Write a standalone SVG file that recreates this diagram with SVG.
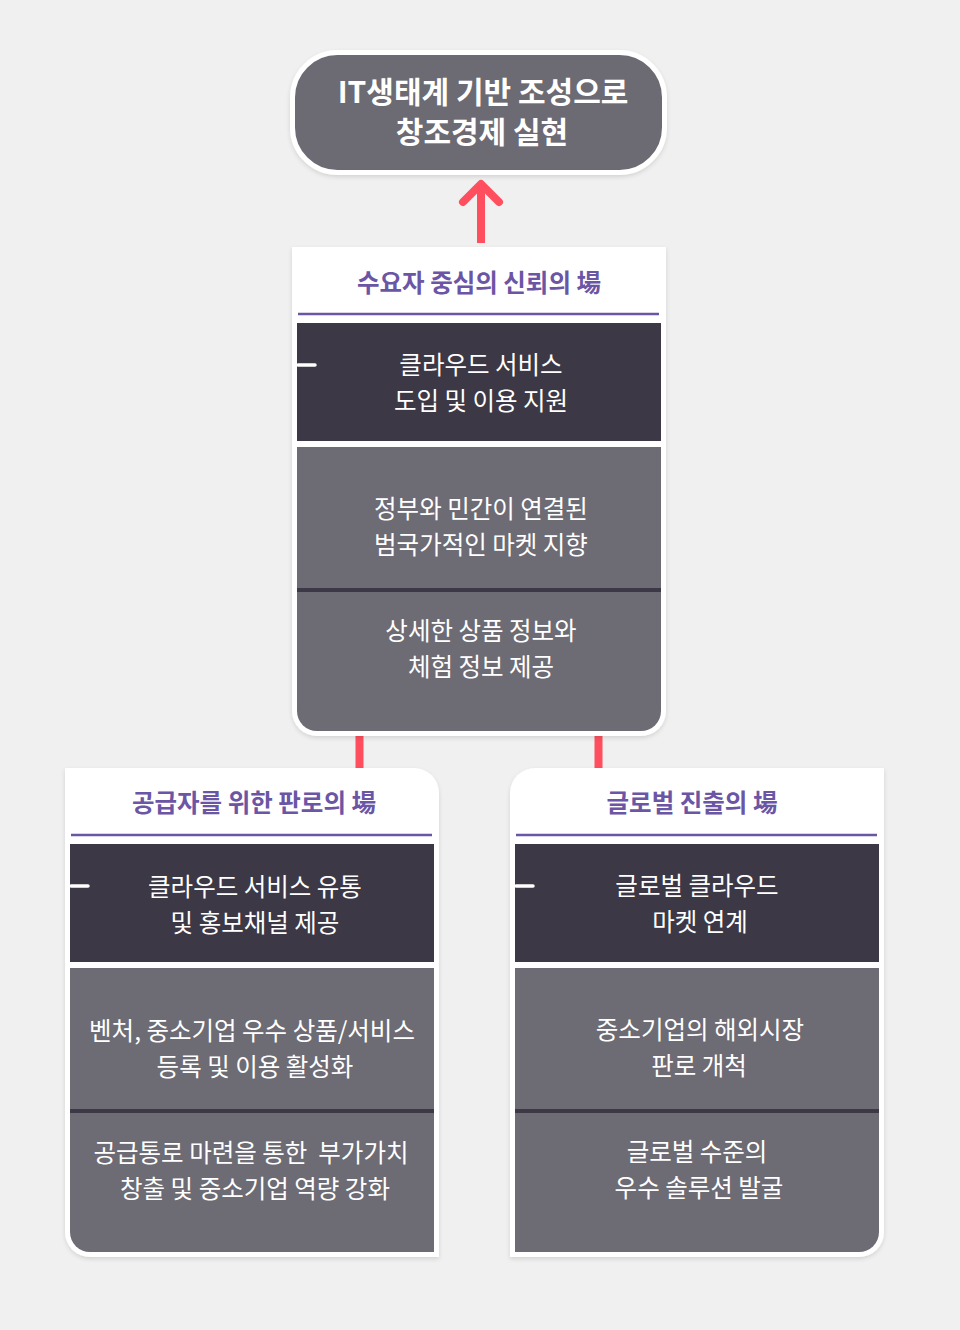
<svg xmlns="http://www.w3.org/2000/svg" width="960" height="1330" viewBox="0 0 960 1330">
<defs>
<filter id="sh" x="-10%" y="-10%" width="120%" height="120%">
<feDropShadow dx="0" dy="2" stdDeviation="2" flood-color="#000" flood-opacity="0.12"/>
</filter>
<style>
.title{font-family:"Noto Sans CJK KR","Noto Sans",sans-serif;font-weight:700;font-size:30px;fill:#fff;text-anchor:middle}
.hdr{font-family:"Noto Sans CJK KR","Noto Sans",sans-serif;font-weight:700;font-size:24.5px;fill:#6b55a5;text-anchor:middle}
.txt{font-family:"Noto Sans CJK KR","Noto Sans",sans-serif;font-size:24.5px;fill:#fff;text-anchor:middle}
.panel{fill:#fff;filter:url(#sh)}
.dark{fill:#3c3846}
.mid{fill:#6d6b74}
.sep{fill:#3c3846}
.rule{stroke:#6b55a5;stroke-width:2.5}
.tick{stroke:#fff;stroke-width:3.5;stroke-linecap:round}
.red{stroke:#ff4f5e;stroke-width:8;fill:none}
</style>
</defs>
<rect width="960" height="1330" fill="#f0f0f0"/>

<g id="connectors">
<line class="red" x1="481" y1="243" x2="481" y2="186"/>
<polyline class="red" points="463,202 481,184 499,202" stroke-width="7" stroke-linecap="round" stroke-linejoin="round"/>
<line class="red" x1="359.5" y1="734" x2="359.5" y2="770"/>
<line class="red" x1="598.5" y1="734" x2="598.5" y2="770"/>
</g>

<g id="goal">
<rect x="292.5" y="52.5" width="372" height="120" rx="45" fill="#6c6a72" stroke="#fff" stroke-width="5" filter="url(#sh)"/>
<text class="title" x="483" y="103">IT생태계 기반 조성으로</text>
<text class="title" x="482" y="143">창조경제 실현</text>
</g>

<g id="demand">
<path class="panel" d="M292,247 H666 V711 A25,25 0 0 1 641,736 H317 A25,25 0 0 1 292,711 Z"/>
<text class="hdr" x="479" y="292">수요자 중심의 신뢰의 場</text>
<line class="rule" x1="298" y1="314" x2="659" y2="314"/>
<rect class="dark" x="297" y="323" width="364" height="118"/>
<line class="tick" x1="298" y1="365" x2="315" y2="365"/>
<text class="txt" x="481" y="374">클라우드 서비스</text>
<text class="txt" x="481" y="410">도입 및 이용 지원</text>
<rect class="mid" x="297" y="447" width="364" height="141"/>
<rect class="sep" x="297" y="588" width="364" height="4"/>
<text class="txt" x="481" y="518">정부와 민간이 연결된</text>
<text class="txt" x="481" y="554">범국가적인 마켓 지향</text>
<path class="mid" d="M297,592 H661 V711 A20,20 0 0 1 641,731 H317 A20,20 0 0 1 297,711 Z"/>
<text class="txt" x="481" y="640">상세한 상품 정보와</text>
<text class="txt" x="481" y="676">체험 정보 제공</text>
</g>

<g id="supplier">
<path class="panel" d="M65,768 H414 A25,25 0 0 1 439,793 V1257 H90 A25,25 0 0 1 65,1232 Z"/>
<text class="hdr" x="254" y="812">공급자를 위한 판로의 場</text>
<line class="rule" x1="71" y1="835" x2="432" y2="835"/>
<rect class="dark" x="70" y="844" width="364" height="118"/>
<line class="tick" x1="71" y1="886" x2="88" y2="886"/>
<text class="txt" x="255" y="896">클라우드 서비스 유통</text>
<text class="txt" x="255" y="932">및 홍보채널 제공</text>
<rect class="mid" x="70" y="968" width="364" height="141"/>
<rect class="sep" x="70" y="1109" width="364" height="4"/>
<text class="txt" x="252" y="1040">벤처, 중소기업 우수 상품/서비스</text>
<text class="txt" x="255" y="1076">등록 및 이용 활성화</text>
<path class="mid" d="M70,1113 H434 V1252 H90 A20,20 0 0 1 70,1232 Z"/>
<text class="txt" x="251" y="1162" style="white-space:pre">공급통로 마련을 통한  부가가치</text>
<text class="txt" x="255" y="1198">창출 및 중소기업 역량 강화</text>
</g>

<g id="global">
<path class="panel" d="M535,768 H884 V1232 A25,25 0 0 1 859,1257 H510 V793 A25,25 0 0 1 535,768 Z"/>
<text class="hdr" x="692" y="812">글로벌 진출의 場</text>
<line class="rule" x1="516" y1="835" x2="877" y2="835"/>
<rect class="dark" x="515" y="844" width="364" height="118"/>
<line class="tick" x1="516" y1="886" x2="533" y2="886"/>
<text class="txt" x="697" y="895">글로벌 클라우드</text>
<text class="txt" x="700" y="931">마켓 연계</text>
<rect class="mid" x="515" y="968" width="364" height="141"/>
<rect class="sep" x="515" y="1109" width="364" height="4"/>
<text class="txt" x="700" y="1039">중소기업의 해외시장</text>
<text class="txt" x="699" y="1075">판로 개척</text>
<path class="mid" d="M515,1113 H879 V1232 A20,20 0 0 1 859,1252 H515 Z"/>
<text class="txt" x="697" y="1161">글로벌 수준의</text>
<text class="txt" x="699" y="1197">우수 솔루션 발굴</text>
</g>
</svg>
